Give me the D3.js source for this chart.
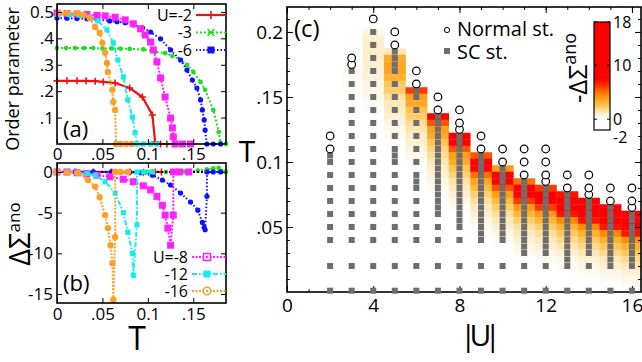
<!DOCTYPE html>
<html>
<head>
<meta charset="utf-8">
<script src="https://cdn.jsdelivr.net/npm/d3@7"></script>
<style>
  body { margin: 0; background: #fff; }
  svg { display: block; font-family: "Open Sans", sans-serif; }
</style>
</head>
<body>
<svg id="fig" width="642" height="362"></svg>
<script>
const FONT = '"Open Sans", sans-serif';

// ---------- panel (a): order parameter vs T, [T, value]
const opU2 = [[0,0.239],[0.011,0.239],[0.022,0.239],[0.032,0.239],[0.042,0.238],[0.051,0.235],[0.064,0.231],[0.080,0.212],[0.094,0.178],[0.105,0.110],[0.108,0.008],[0.114,0],[0.121,0]];
const opU3 = [[0,0.363],[0.01,0.363],[0.02,0.363],[0.03,0.363],[0.04,0.363],[0.05,0.362],[0.06,0.362],[0.07,0.361],[0.08,0.360],[0.095,0.358],[0.108,0.349],[0.119,0.344],[0.127,0.333],[0.136,0.318],[0.143,0.299],[0.150,0.273],[0.158,0.235],[0.163,0.205],[0.172,0.129],[0.178,0.045],[0.180,0.004],[0.186,0]];
const opU6 = [[0,0.477],[0.011,0.476],[0.022,0.475],[0.033,0.474],[0.044,0.472],[0.058,0.466],[0.066,0.463],[0.075,0.459],[0.084,0.451],[0.094,0.440],[0.103,0.424],[0.114,0.398],[0.125,0.356],[0.136,0.318],[0.143,0.280],[0.149,0.242],[0.154,0.212],[0.158,0.167],[0.160,0.129],[0.162,0.091],[0.163,0.053],[0.165,0],[0.172,0],[0.180,0]];
const opU8 = [[0,0.496],[0.011,0.494],[0.022,0.492],[0.033,0.490],[0.044,0.487],[0.053,0.485],[0.064,0.480],[0.075,0.470],[0.084,0.455],[0.092,0.436],[0.097,0.413],[0.103,0.386],[0.106,0.356],[0.110,0.311],[0.114,0.250],[0.119,0.178],[0.125,0.098],[0.127,0.061],[0.128,0.027],[0.130,0],[0.138,0],[0.147,0]];
const opU12 = [[0.001,0.490],[0.014,0.489],[0.025,0.487],[0.036,0.481],[0.045,0.466],[0.055,0.432],[0.062,0.383],[0.067,0.318],[0.073,0.254],[0.078,0.167],[0.083,0.102],[0.086,0.042],[0.088,0],[0.095,0],[0.103,0],[0.110,0]];
const opU16 = [[0.002,0.496],[0.011,0.496],[0.022,0.495],[0.029,0.489],[0.036,0.477],[0.042,0.443],[0.047,0.420],[0.050,0.383],[0.053,0.345],[0.055,0.307],[0.056,0.273],[0.061,0.205],[0.062,0.159],[0.064,0.129],[0.065,0],[0.070,0],[0.076,0],[0.082,0]];

// ---------- panel (b): delta Sigma ano vs T
const dsU2 = [[0,0],[0.02,0],[0.04,0],[0.06,0],[0.08,-0.02],[0.095,-0.05],[0.105,-0.1],[0.108,0],[0.115,0]];
const dsU3 = [[0,0],[0.02,0],[0.04,0],[0.06,0],[0.08,0],[0.10,0],[0.12,0],[0.14,0.05],[0.155,0.15],[0.165,0.3],[0.172,0.45],[0.178,0.5],[0.181,0.1],[0.186,0]];
const dsU6 = [[0,0],[0.02,0],[0.04,0],[0.06,0],[0.08,-0.05],[0.092,-0.1],[0.105,-0.4],[0.116,-1.0],[0.125,-1.6],[0.136,-2.6],[0.147,-3.7],[0.155,-4.7],[0.160,-6.2],[0.162,-6.8],[0.163,-7.1],[0.165,-3],[0.165,0],[0.172,0],[0.180,0]];
const dsU8 = [[0,0],[0.011,0],[0.022,-0.1],[0.033,-0.2],[0.044,-0.4],[0.058,-0.6],[0.073,-0.9],[0.084,-1.2],[0.095,-1.7],[0.103,-2.2],[0.110,-3.0],[0.116,-4.1],[0.119,-5.3],[0.122,-6.9],[0.125,-9.0],[0.128,-5.3],[0.128,0],[0.135,0],[0.145,0]];
const dsU12 = [[0,0],[0.011,0],[0.022,-0.1],[0.033,-0.2],[0.042,-0.4],[0.053,-1.2],[0.064,-2.6],[0.073,-5.0],[0.078,-7.4],[0.083,-10.0],[0.084,-12.7],[0.088,-6.5],[0.088,0],[0.095,0],[0.105,0]];
const dsU16 = [[0,0],[0.011,-0.1],[0.023,-0.1],[0.034,-1.0],[0.042,-1.8],[0.047,-3.1],[0.053,-5.3],[0.056,-6.9],[0.059,-9.0],[0.061,-11.2],[0.062,-15.7],[0.064,-8],[0.064,0],[0.070,0],[0.078,0]];

// ---------- panel (c): |U| vs T
const uList = [2,3,4,5,6,7,8,9,10,11,12,13,14,15,16];
const scU2 = [0.001,0.02,0.04,0.05,0.06,0.07,0.08,0.09,0.1,0.105];
const scU3 = [0.001,0.02,0.04,0.05,0.06,0.07,0.08,0.09,0.1,0.11,0.12,0.13,0.14,0.15,0.16,0.17];
const scU4 = [0.001,0.02,0.04,0.05,0.06,0.07,0.08,0.09,0.1,0.11,0.12,0.13,0.14,0.15,0.16,0.17,0.18,0.19,0.2];
const scU5 = [0.001,0.02,0.04,0.05,0.06,0.07,0.08,0.09,0.1,0.105,0.11,0.12,0.13,0.14,0.15,0.16,0.17,0.175,0.18,0.185];
const scU6 = [0.001,0.02,0.04,0.05,0.06,0.07,0.08,0.085,0.09,0.1,0.11,0.12,0.13,0.14,0.15,0.155];
const scU7 = [0.001,0.02,0.04,0.05,0.06,0.065,0.07,0.075,0.08,0.085,0.09,0.095,0.1,0.105,0.11,0.115,0.12,0.125,0.13,0.135];
const scU8 = [0.001,0.02,0.04,0.05,0.055,0.06,0.065,0.07,0.075,0.08,0.085,0.09,0.095,0.1,0.105,0.11,0.115,0.12];
const scU9 = [0.001,0.02,0.04,0.045,0.05,0.055,0.06,0.065,0.07,0.075,0.08,0.085,0.09,0.095,0.1,0.105];
const scU10 = [0.001,0.02,0.04,0.045,0.05,0.055,0.06,0.065,0.07,0.075,0.08,0.085,0.09,0.095];
const scU11 = [0.001,0.02,0.03,0.035,0.04,0.045,0.05,0.055,0.06,0.065,0.07,0.075,0.08,0.085];
const scU12 = [0.001,0.02,0.03,0.035,0.04,0.045,0.05,0.055,0.06,0.065,0.07,0.075,0.08];
const scU13 = [0.001,0.02,0.025,0.03,0.035,0.04,0.045,0.05,0.055,0.06,0.065,0.07,0.075];
const scU14 = [0.001,0.02,0.03,0.035,0.04,0.045,0.05,0.055,0.06,0.065,0.07];
const scU15 = [0.001,0.02,0.025,0.03,0.035,0.04,0.045,0.05,0.055,0.06,0.065];
const scU16 = [0.001,0.02,0.025,0.03,0.035,0.04,0.045,0.05,0.055,0.06];
const scPts = [scU2,scU3,scU4,scU5,scU6,scU7,scU8,scU9,scU10,scU11,scU12,scU13,scU14,scU15,scU16];

const normalPts = [[0.11,0.12],[0.175,0.18],[0.21],[0.19,0.2],[0.16,0.17],[0.14,0.15],[0.125,0.13,0.14],[0.11,0.12],[0.1,0.11],[0.09,0.1,0.11],[0.085,0.09,0.1,0.11],[0.08,0.09],[0.075,0.08,0.09],[0.07,0.08],[0.065,0.07,0.08]];

// -Delta Sigma ano, rows of 0.005 in T going down from each column's highest SC point
const heatU2 = [0.2,0.2,0.15,0.1,0.1,0.05];
const heatU3 = [0.3,0.3,0.3,0.25,0.2,0.2,0.15,0.1,0.1];
const heatU4 = [0.6,0.9,1.0,1.0,1.0,0.9,0.9,0.8,0.7,0.6,0.5,0.4,0.3,0.2,0.1];
const heatU5 = [1.3,3.4,3.6,3.6,3.2,2.4,2.2,1.6,1.3,1.1,0.9,0.7,0.5,0.4,0.3,0.2,0.1];
const heatU6 = [6,3.8,3.5,2.6,2.2,1.7,1.4,1.1,0.9,0.7,0.5,0.35,0.2,0.1];
const heatU7 = [8,5.5,3.8,3.4,2.5,2,1.6,1.3,1,0.8,0.6,0.4,0.25,0.1];
const heatU8 = [12,9,5.5,3.8,3.4,2.5,2,1.5,1.2,0.9,0.6,0.4,0.2,0.1];
const heatU9 = [5.5,12,8,5,3.6,2.8,2.1,1.6,1.2,0.9,0.6,0.4,0.25,0.1];
const heatU10 = [4,14,9,5.5,3.8,2.8,2.2,1.6,1.2,0.9,0.6,0.4,0.25,0.1];
const heatU11 = [5,14,12,6,4,3,2.2,1.6,1.2,0.9,0.6,0.4,0.25,0.1];
const heatU12 = [6,15,13,6,4,3,2.2,1.6,1.2,0.9,0.6,0.4,0.2,0.1];
const heatU13 = [7,15,12,7,4.5,3.2,2.4,1.8,1.3,0.9,0.6,0.4,0.2,0.1];
const heatU14 = [8,16,12,7,4.5,3.2,2.4,1.8,1.3,0.9,0.6,0.4,0.2];
const heatU15 = [9,16,13,7,4.5,3.2,2.4,1.8,1.3,0.9,0.6,0.4,0.2];
const heatU16 = [10,17,12,7,4.5,3.2,2.4,1.8,1.3,0.9,0.6,0.4,0.2];
const heatVals = [heatU2,heatU3,heatU4,heatU5,heatU6,heatU7,heatU8,heatU9,heatU10,heatU11,heatU12,heatU13,heatU14,heatU15,heatU16];
const heatStep = 0.005;

const cbStops = [-2, 0.2, 1.3, 2.6, 4.5, 6, 7.5, 18];
const cbColors = ["#ffffff","#ffffff","#ffe8b8","#ffc24a","#ff8c00","#ff3a00","#ff0000","#ff0000"];
const cbTicks = [-2, 0, 10, 18];

// ---------- scales
const xA = d3.scaleLinear().domain([0, 0.186]).range([57, 226]);
const yA = d3.scaleLinear().domain([0, 0.53]).range([144, 4]);
const yB = d3.scaleLinear().domain([-16.1, 1.1]).range([303, 163]);
const xC = d3.scaleLinear().domain([0, 16.42]).range([287, 641]);
const yC = d3.scaleLinear().domain([0, 0.2192]).range([292, 7]);
const cbY = d3.scaleLinear().domain([-2, 18]).range([130, 22]);
const heatColor = d3.scaleLinear().domain(cbStops).range(cbColors).clamp(true);

const svg = d3.select("#fig");

const shape = {
  plus: s => `M${-s},0H${s}M0,${-s}V${s}`,
  cross: s => `M${-s},${-s}L${s},${s}M${-s},${s}L${s},${-s}`,
  square: s => `M${-s},${-s}h${2 * s}v${2 * s}h${-2 * s}Z`,
  circle: s => `M${-s},0a${s},${s} 0 1,0 ${2 * s},0a${s},${s} 0 1,0 ${-2 * s},0Z`
};

function markers(g, pts, xs, ys, type, color, s, open) {
  const stroked = type === "plus" || type === "cross";
  const m = g.append("g").selectAll("path").data(pts).join("path")
    .attr("transform", d => `translate(${xs(d[0])},${ys(d[1])})`)
    .attr("d", shape[type](s));
  if (stroked) m.attr("fill", "none").attr("stroke", color).attr("stroke-width", 1.6);
  else if (open) m.attr("fill", "#fff").attr("stroke", color).attr("stroke-width", 1.6);
  else m.attr("fill", color);
  if (open) {
    g.append("g").selectAll("circle").data(pts).join("circle")
      .attr("cx", d => xs(d[0])).attr("cy", d => ys(d[1])).attr("r", 1.2).attr("fill", color);
  }
}

function curve(g, pts, xs, ys, st) {
  g.append("path").datum(pts)
    .attr("d", d3.line().x(d => xs(d[0])).y(d => ys(d[1])))
    .attr("fill", "none").attr("stroke", st.color).attr("stroke-width", st.width)
    .attr("stroke-dasharray", st.dash);
  markers(g, pts, xs, ys, st.mark, st.color, st.size);
}

function frame(x0, x1, y0, y1) {
  svg.append("rect").attr("x", x0).attr("y", y0).attr("width", x1 - x0).attr("height", y1 - y0)
    .attr("fill", "none").attr("stroke", "#000").attr("stroke-width", 1.6);
}

function styleAxis(g, size) {
  g.attr("font-family", FONT).attr("font-size", size);
  g.select(".domain").remove();
  g.selectAll(".tick line").attr("stroke-width", 1);
}

const st = {
  u2: { color: "#ee1111", width: 2.2, dash: null, mark: "plus", size: 3.5 },
  u3: { color: "#22dd22", width: 2, dash: "2,2", mark: "circle", size: 2.4 },
  u6: { color: "#1010ff", width: 2, dash: "1.5,2", mark: "circle", size: 2.6 },
  u8: { color: "#ff22ff", width: 2, dash: "2,1.5", mark: "square", size: 3.5 },
  u12: { color: "#11eeee", width: 2, dash: "5,2,1.5,2", mark: "square", size: 2.6 },
  u16: { color: "#ffa024", width: 2, dash: "2,1.5", mark: "circle", size: 3.2 }
};

// ================= panel (a)
const gA = svg.append("g");
curve(gA, opU2, xA, yA, st.u2);
curve(gA, opU3, xA, yA, st.u3);
curve(gA, opU6, xA, yA, st.u6);
curve(gA, opU8, xA, yA, st.u8);
curve(gA, opU12, xA, yA, st.u12);
curve(gA, opU16, xA, yA, st.u16);
frame(57, 226, 4, 144);

const tickAx = [0, 0.05, 0.1, 0.15], labAx = ["0", ".05", "0.1", ".15"];
const tickAy = [0.1, 0.2, 0.3, 0.4, 0.5], labAy = [".1", ".2", ".3", ".4", "0.5"];
svg.append("g").attr("transform", "translate(0,144)")
  .call(d3.axisBottom(xA).tickValues(tickAx).tickFormat((d, i) => labAx[i]).tickSize(-5).tickPadding(4))
  .call(g => styleAxis(g, 17));
svg.append("g").attr("transform", "translate(0,4)")
  .call(d3.axisTop(xA).tickValues(tickAx).tickFormat("").tickSize(-5)).call(g => styleAxis(g, 17));
svg.append("g").attr("transform", "translate(57,0)")
  .call(d3.axisLeft(yA).tickValues(tickAy).tickFormat((d, i) => labAy[i]).tickSize(-5).tickPadding(3))
  .call(g => styleAxis(g, 17));
svg.append("g").attr("transform", "translate(226,0)")
  .call(d3.axisRight(yA).tickValues(tickAy).tickFormat("").tickSize(-5)).call(g => styleAxis(g, 17));

svg.append("text").attr("x", 63).attr("y", 137).attr("font-size", 22).text("(a)");
svg.append("text").attr("transform", "translate(19,79) rotate(-90)")
  .attr("text-anchor", "middle").attr("font-size", 18).text("Order parameter");

// legend (a)
const legA = [["U=-2", st.u2, "plus", 4, false], ["-3", st.u3, "cross", 3.5, false], ["-6", st.u6, "square", 3.5, false]];
legA.forEach((l, i) => {
  const y = 15 + i * 17.5;
  svg.append("text").attr("x", 192).attr("y", y).attr("dy", "0.35em").attr("text-anchor", "end")
    .attr("font-size", 16).text(l[0]);
  svg.append("line").attr("x1", 196).attr("x2", 226).attr("y1", y).attr("y2", y)
    .attr("stroke", l[1].color).attr("stroke-width", l[1].width).attr("stroke-dasharray", l[1].dash);
  markers(svg, [[0, 0]], () => 211, () => y, l[2], l[1].color, l[3], l[4]);
});

// ================= panel (b)
const gB = svg.append("g");
curve(gB, dsU2, xA, yB, st.u2);
curve(gB, dsU3, xA, yB, st.u3);
gB.append("line").attr("x1", 57).attr("x2", 226).attr("y1", yB(0)).attr("y2", yB(0))
  .attr("stroke", "#000").attr("stroke-width", 2).attr("stroke-dasharray", "2,2");
curve(gB, dsU6, xA, yB, st.u6);
curve(gB, dsU8, xA, yB, st.u8);
curve(gB, dsU12, xA, yB, st.u12);
curve(gB, dsU16, xA, yB, st.u16);
frame(57, 226, 163, 303);

const tickBy = [0, -5, -10, -15];
svg.append("g").attr("transform", "translate(0,303)")
  .call(d3.axisBottom(xA).tickValues(tickAx).tickFormat((d, i) => labAx[i]).tickSize(-5).tickPadding(5))
  .call(g => styleAxis(g, 17));
svg.append("g").attr("transform", "translate(0,163)")
  .call(d3.axisTop(xA).tickValues(tickAx).tickFormat("").tickSize(-5)).call(g => styleAxis(g, 17));
svg.append("g").attr("transform", "translate(57,0)")
  .call(d3.axisLeft(yB).tickValues(tickBy).tickFormat(d => String(d)).tickSize(-5).tickPadding(4))
  .call(g => styleAxis(g, 17));
svg.append("g").attr("transform", "translate(226,0)")
  .call(d3.axisRight(yB).tickValues(tickBy).tickFormat("").tickSize(-5)).call(g => styleAxis(g, 17));

svg.append("text").attr("x", 63).attr("y", 291).attr("font-size", 22).text("(b)");
svg.append("text").attr("x", 137).attr("y", 350).attr("text-anchor", "middle").attr("font-size", 32).text("T");
const dsLab = svg.append("text").attr("transform", "translate(30,234) rotate(-90)").attr("text-anchor", "middle");
dsLab.append("tspan").attr("font-size", 29).text("ΔΣ");
dsLab.append("tspan").attr("font-size", 17).attr("dy", -10).text("ano");

const legB = [["U=-8", st.u8, "square", 3.5, true], ["-12", st.u12, "square", 3.5, false], ["-16", st.u16, "circle", 3.8, true]];
legB.forEach((l, i) => {
  const y = 257 + i * 17;
  svg.append("text").attr("x", 188).attr("y", y).attr("dy", "0.35em").attr("text-anchor", "end")
    .attr("font-size", 16).text(l[0]);
  svg.append("line").attr("x1", 192).attr("x2", 226).attr("y1", y).attr("y2", y)
    .attr("stroke", l[1].color).attr("stroke-width", l[1].width).attr("stroke-dasharray", l[1].dash);
  markers(svg, [[0, 0]], () => 207, () => y, l[2], l[1].color, l[3], l[4]);
});

// ================= panel (c)
svg.append("clipPath").attr("id", "clipC").append("rect")
  .attr("x", 287).attr("y", 7).attr("width", 354).attr("height", 285);
const gC = svg.append("g").attr("clip-path", "url(#clipC)");
const cells = [];
uList.forEach((u, i) => {
  const top = d3.max(scPts[i]);
  heatVals[i].forEach((v, j) => cells.push({ u, t: top - j * heatStep, v }));
});
gC.selectAll("rect").data(cells).join("rect")
  .attr("x", d => xC(d.u - 0.5))
  .attr("width", d => xC(d.u + 0.5) - xC(d.u - 0.5) + 0.3)
  .attr("y", d => yC(d.t + heatStep / 2))
  .attr("height", d => yC(d.t - heatStep / 2) - yC(d.t + heatStep / 2) + 0.3)
  .attr("fill", d => heatColor(d.v));

const scFlat = uList.flatMap((u, i) => scPts[i].map(t => [u, t]));
const nFlat = uList.flatMap((u, i) => normalPts[i].map(t => [u, t]));

frame(287, 641, 7, 292);

// ticks (c)
const tickCx = [0, 4, 8, 12, 16];
const tickCy = [0.05, 0.1, 0.15, 0.2], labCy = [".05", "0.1", ".15", "0.2"];
const minorCx = d3.range(0, 17, 1);
const minorCy = d3.range(0.01, 0.22, 0.01);
svg.append("g").attr("transform", "translate(0,292)")
  .call(d3.axisBottom(xC).tickValues(minorCx).tickFormat("").tickSize(-3)).call(g => styleAxis(g, 19));
svg.append("g").attr("transform", "translate(0,7)")
  .call(d3.axisTop(xC).tickValues(minorCx).tickFormat("").tickSize(-3)).call(g => styleAxis(g, 19));
svg.append("g").attr("transform", "translate(287,0)")
  .call(d3.axisLeft(yC).tickValues(minorCy).tickFormat("").tickSize(-3)).call(g => styleAxis(g, 19));
svg.append("g").attr("transform", "translate(641,0)")
  .call(d3.axisRight(yC).tickValues(minorCy).tickFormat("").tickSize(-3)).call(g => styleAxis(g, 19));
svg.append("g").attr("transform", "translate(0,292)")
  .call(d3.axisBottom(xC).tickValues(tickCx).tickSize(-6).tickPadding(7)).call(g => styleAxis(g, 19));
svg.append("g").attr("transform", "translate(0,7)")
  .call(d3.axisTop(xC).tickValues(tickCx).tickFormat("").tickSize(-6)).call(g => styleAxis(g, 19));
svg.append("g").attr("transform", "translate(287,0)")
  .call(d3.axisLeft(yC).tickValues(tickCy).tickFormat((d, i) => labCy[i]).tickSize(-6).tickPadding(4))
  .call(g => styleAxis(g, 19));
svg.append("g").attr("transform", "translate(641,0)")
  .call(d3.axisRight(yC).tickValues(tickCy).tickFormat("").tickSize(-6)).call(g => styleAxis(g, 19));

// SC and normal states
svg.append("g").selectAll("rect").data(scFlat).join("rect")
  .attr("x", d => xC(d[0]) - 3).attr("y", d => yC(d[1]) - 3)
  .attr("width", 6).attr("height", 6).attr("fill", "#6e6e6e");
svg.append("g").selectAll("circle").data(nFlat).join("circle")
  .attr("cx", d => xC(d[0])).attr("cy", d => yC(d[1])).attr("r", 3.8)
  .attr("fill", "#fff").attr("stroke", "#000").attr("stroke-width", 1.2);

svg.append("text").attr("x", 294).attr("y", 37).attr("font-size", 24).text("(c)");
svg.append("text").attr("x", 247).attr("y", 162).attr("text-anchor", "middle").attr("font-size", 30).text("T");
svg.append("text").attr("x", 477).attr("y", 346).attr("text-anchor", "middle").attr("font-size", 30)
  .attr("letter-spacing", "-7px").text("|U|");

// legend (c)
svg.append("circle").attr("cx", 447).attr("cy", 30).attr("r", 2.6)
  .attr("fill", "#fff").attr("stroke", "#000").attr("stroke-width", 1);
svg.append("rect").attr("x", 444).attr("y", 48).attr("width", 6).attr("height", 6).attr("fill", "#6e6e6e");
svg.append("text").attr("x", 457).attr("y", 36).attr("font-size", 20).text("Normal st.");
svg.append("text").attr("x", 457).attr("y", 59).attr("font-size", 20).text("SC st.");

// colour bar
const grad = svg.append("defs").append("linearGradient").attr("id", "cbGrad")
  .attr("x1", 0).attr("y1", 1).attr("x2", 0).attr("y2", 0);
grad.selectAll("stop").data(cbStops).join("stop")
  .attr("offset", d => (d - cbStops[0]) / (cbStops[cbStops.length - 1] - cbStops[0]))
  .attr("stop-color", (d, i) => cbColors[i]);
svg.append("rect").attr("x", 594).attr("y", cbY(18)).attr("width", 16).attr("height", cbY(-2) - cbY(18))
  .attr("fill", "url(#cbGrad)").attr("stroke", "#000").attr("stroke-width", 1.2);
svg.append("g").selectAll("path").data(cbTicks.slice(1)).join("path")
  .attr("d", d => `M594,${cbY(d)}h3M610,${cbY(d)}h-3`).attr("stroke", "#000").attr("stroke-width", 1);
svg.append("g").selectAll("text").data(cbTicks).join("text")
  .attr("x", 613).attr("y", d => cbY(d) + (d === -2 ? 7 : 0)).attr("dy", "0.35em")
  .attr("font-size", 16).text(d => String(d));
const cbLab = svg.append("text").attr("transform", "translate(587,68) rotate(-90)").attr("text-anchor", "middle");
cbLab.append("tspan").attr("font-size", 26).text("-ΔΣ");
cbLab.append("tspan").attr("font-size", 18).attr("dy", -11).text("ano");
</script>
</body>
</html>
